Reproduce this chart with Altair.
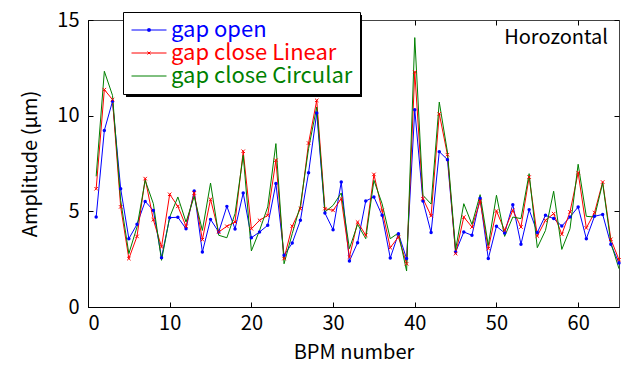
import altair as alt
import pandas as pd

bpm = list(range(1, 66))
gap_open = [4.70, 9.23, 10.75, 6.18, 3.57, 4.32, 5.52, 5.05, 2.58, 4.67,
            4.69, 4.09, 6.06, 2.87, 4.58, 3.92, 5.26, 4.08, 5.96, 3.62,
            3.92, 4.27, 6.45, 2.70, 3.34, 4.53, 7.02, 10.14, 4.91, 4.04,
            6.53, 2.40, 3.36, 5.54, 5.75, 4.79, 2.56, 3.83, 2.53, 10.31,
            5.54, 3.89, 8.12, 7.70, 2.87, 3.92, 3.75, 5.68, 2.53, 4.22,
            3.87, 5.35, 3.28, 5.09, 3.89, 4.79, 4.62, 4.23, 4.70, 5.23,
            3.57, 4.74, 4.84, 3.28, 2.30]
gap_close_linear = [6.18, 11.36, 10.84, 5.23, 2.53, 3.69, 6.71, 4.56, 3.14, 5.89,
                    5.26, 4.22, 5.96, 3.52, 5.63, 3.92, 4.22, 4.44, 8.14, 4.09,
                    4.53, 4.79, 7.67, 2.53, 4.22, 5.14, 8.57, 10.80, 5.14, 5.05,
                    5.66, 2.61, 4.44, 3.75, 6.93, 5.05, 3.10, 3.66, 2.26, 12.28,
                    5.66, 4.77, 10.10, 7.96, 2.79, 4.70, 4.18, 5.54, 3.05, 5.02,
                    4.01, 5.05, 4.18, 6.79, 3.71, 4.53, 4.88, 3.80, 4.97, 7.02,
                    4.13, 4.93, 6.53, 3.54, 2.47]
gap_close_circular = [6.83, 12.32, 11.06, 5.57, 2.79, 4.18, 6.62, 5.40, 2.44, 4.70,
                      5.75, 4.44, 5.78, 4.00, 6.48, 3.75, 3.62, 4.88, 7.93, 2.93,
                      4.00, 5.23, 8.54, 2.26, 3.83, 5.31, 8.28, 10.45, 4.97, 5.31,
                      5.96, 3.05, 4.32, 3.57, 6.62, 5.40, 3.57, 3.87, 1.88, 14.08,
                      5.84, 5.38, 10.71, 8.10, 3.00, 5.40, 4.32, 5.87, 3.22, 5.84,
                      3.69, 4.70, 4.62, 6.97, 3.10, 4.00, 6.05, 3.01, 4.09, 7.46,
                      4.74, 4.70, 6.48, 3.36, 2.00]
series_names = ["gap open", "gap close Linear", "gap close Circular"]
series_colors = ["#0000FF", "#FF0000", "#008000"]
x_ticks = [0, 10, 20, 30, 40, 50, 60]
y_ticks = [0, 5, 10, 15]
panel_label = "Horozontal"

rows = []
for name, vals in zip(series_names, [gap_open, gap_close_linear, gap_close_circular]):
    for b, v in zip(bpm, vals):
        rows.append({"bpm": b, "amp": v, "series": name})
df = pd.DataFrame(rows)

FONT = "Noto Sans CJK JP"
FS = 20

xscale = alt.Scale(domain=[0, 65], nice=False, zero=False)
yscale = alt.Scale(domain=[0, 15], nice=False)

def tick_axis(orient):
    return alt.Axis(orient=orient, offset=-5, tickSize=5, labels=False, domain=False,
                    grid=False, title=None, tickColor="black", tickWidth=1,
                    values=x_ticks if orient in ("top", "bottom") else y_ticks)

color_expr = ("datum.value === 'gap open' ? '#0000FF' : "
              "(datum.value === 'gap close Linear' ? '#FF0000' : '#008000')")
shape_expr = ("datum.value === 'gap open' ? 'M-1.75,0L1.75,0M-0.12,-0.12L0.12,-0.12L0.12,0.12L-0.12,0.12Z' : "
              "(datum.value === 'gap close Linear' ? 'M-1.75,0L1.75,0M-0.15,-0.15L0.15,0.15M-0.15,0.15L0.15,-0.15' : 'M-1.75,0L1.75,0')")

legend = alt.Legend(
    title=None, orient="none", legendX=35, legendY=-8,
    fillColor="white", strokeColor="black", padding=7,
    labelFont=FONT, labelFontSize=22, labelColor={"expr": color_expr},
    labelLimit=400, labelOffset=11, symbolOffset=8,
    symbolType={"expr": shape_expr}, symbolSize=400, symbolStrokeWidth=1,
    symbolStrokeColor={"expr": color_expr}, symbolFillColor={"expr": color_expr},
    rowPadding=1,
)

shadow = alt.Chart(pd.DataFrame({"a": [0]})).mark_rect(color="black").encode(
    x=alt.value(38), x2=alt.value(274), y=alt.value(-5), y2=alt.value(77)
)

lines = alt.Chart(df).mark_line(strokeWidth=1).encode(
    x=alt.X("bpm:Q", scale=xscale,
            axis=alt.Axis(orient="bottom", values=x_ticks, tickSize=0, labelPadding=6,
                          domainColor="black", grid=False, title="BPM number",
                          titlePadding=9)),
    y=alt.Y("amp:Q", scale=yscale,
            axis=alt.Axis(orient="left", values=y_ticks, tickSize=0, labelPadding=9,
                          domainColor="black", grid=False, title="Amplitude (μm)",
                          titlePadding=16)),
    color=alt.Color("series:N", sort=series_names,
                    scale=alt.Scale(domain=series_names, range=series_colors),
                    legend=legend),
    detail="series:N",
)

blue_pts = alt.Chart(df).transform_filter(alt.datum.series == "gap open").mark_point(
    filled=True, shape="circle", size=12, color="#0000FF", opacity=1
).encode(
    x=alt.X("bpm:Q", scale=xscale, axis=tick_axis("bottom")),
    y=alt.Y("amp:Q", scale=yscale, axis=tick_axis("left")),
)

red_pts = alt.Chart(df).transform_filter(alt.datum.series == "gap close Linear").mark_point(
    filled=False, shape="M-1,-1L1,1M-1,1L1,-1", size=12, color="#FF0000",
    strokeWidth=1, opacity=1
).encode(
    x=alt.X("bpm:Q", scale=xscale, axis=tick_axis("top")),
    y=alt.Y("amp:Q", scale=yscale, axis=tick_axis("right")),
)

label = alt.Chart(pd.DataFrame({"t": [panel_label]})).mark_text(
    align="right", baseline="top", font=FONT, fontSize=FS, color="black", dx=-11, dy=8
).encode(x=alt.datum(65, scale=xscale, axis=None),
         y=alt.datum(15, scale=yscale, axis=None), text="t:N")

chart = alt.layer(shadow, lines, blue_pts, red_pts, label).resolve_axis(
    x="independent", y="independent"
).properties(
    width=531, height=287, background="white",
    autosize=alt.AutoSizeParams(type="none"),
    padding={"left": 88, "right": 2, "top": 20, "bottom": 60},
).configure_view(
    stroke="#444", strokeWidth=1
).configure_axis(
    labelFont=FONT, labelFontSize=FS, labelColor="black",
    titleFont=FONT, titleFontSize=FS, titleFontWeight="normal", titleColor="black",
)

chart.save("out.html", embed_options={"renderer": "svg", "actions": False})
